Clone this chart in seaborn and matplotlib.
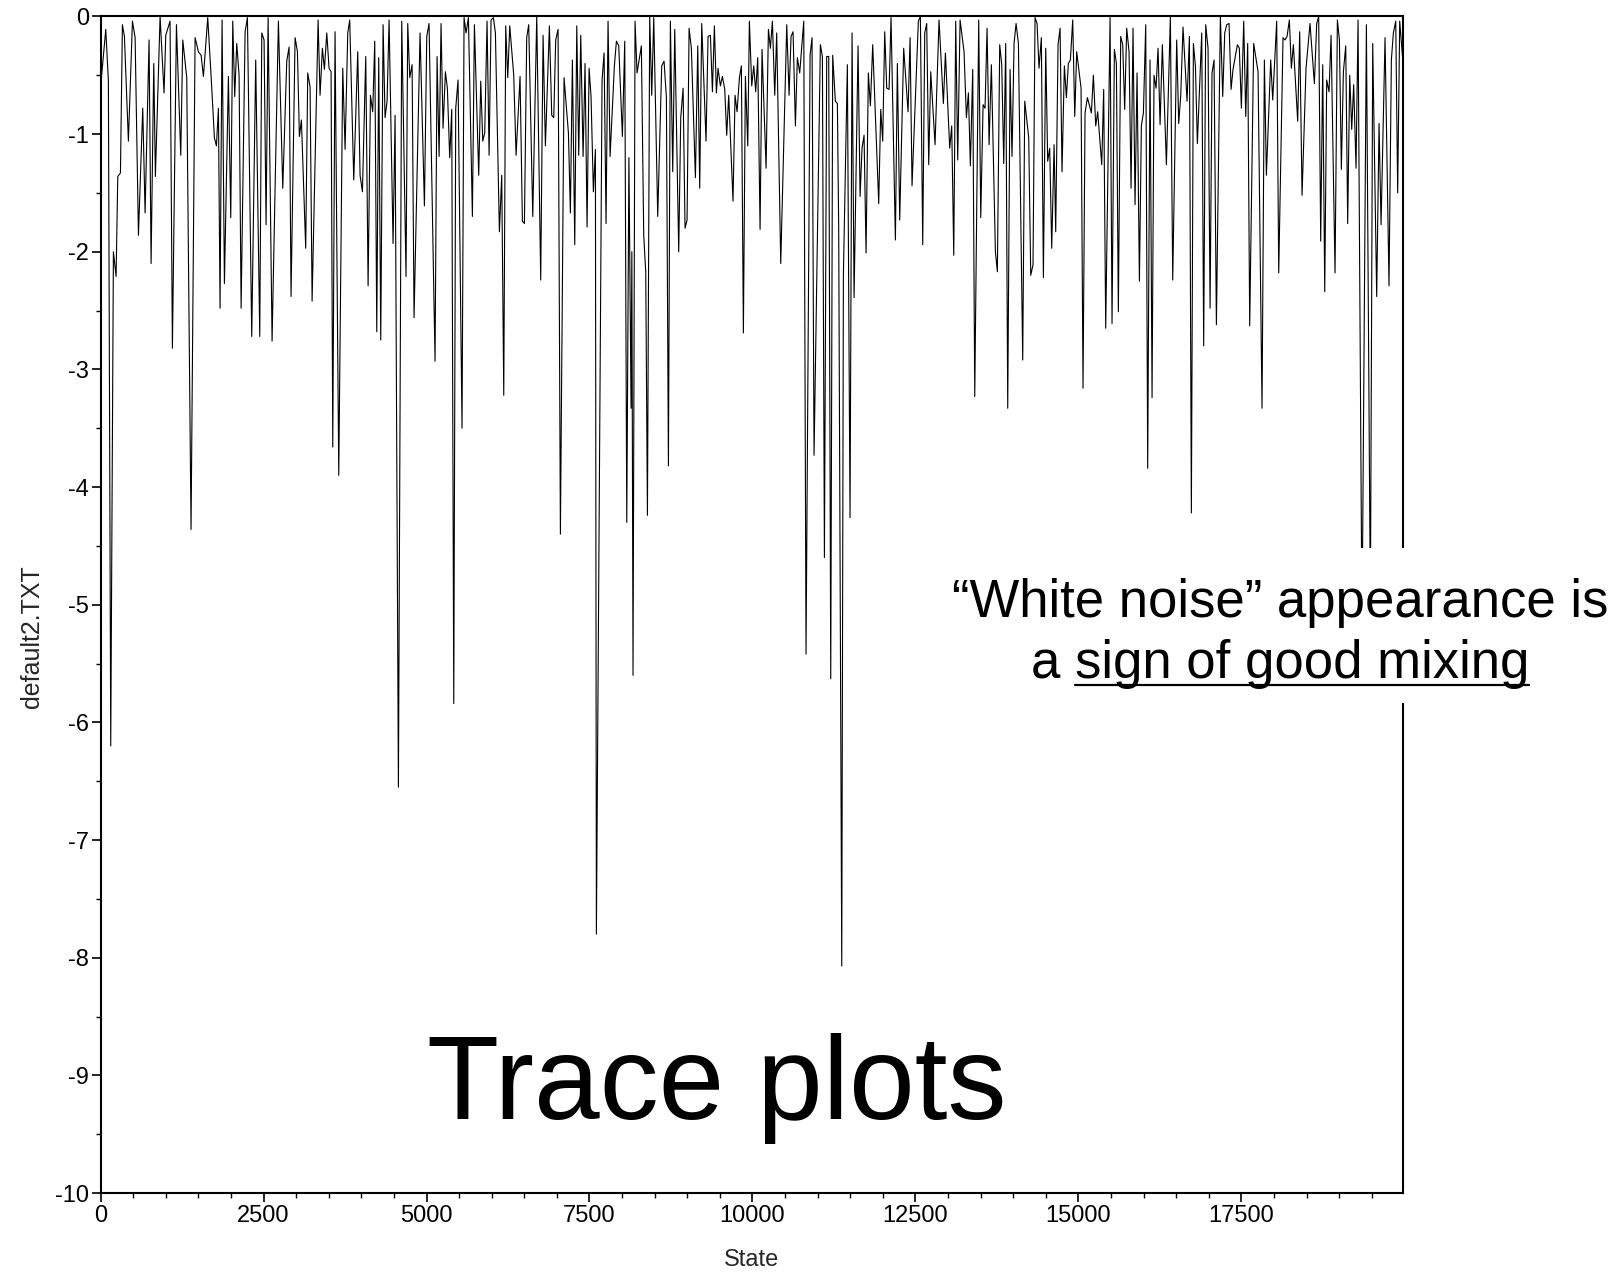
import numpy as np
import pandas as pd
import seaborn as sns
import matplotlib.pyplot as plt

from matplotlib import font_manager
from matplotlib.lines import Line2D
from matplotlib.patches import Rectangle
from matplotlib.ticker import MultipleLocator


#
# trace values read off the picture (state, sampled value)
#

state = [
    0, 80, 120, 156, 197, 238, 264, 305, 335, 366, 427, 489, 530, 581, 647, 683, 744, 775, 816, 841,
    913, 974, 1000, 1066, 1102, 1164, 1230, 1261, 1322, 1388, 1450, 1501, 1542, 1578, 1644, 1706, 1746, 1777, 1808, 1833,
    1864, 1900, 1961, 1997, 2028, 2058, 2089, 2125, 2156, 2217, 2253, 2319, 2380, 2442, 2473, 2508, 2539, 2570, 2631, 2728,
    2795, 2856, 2892, 2922, 2984, 3020, 3050, 3081, 3147, 3178, 3214, 3245, 3337,
    3367, 3403, 3434, 3470, 3505, 3536, 3562, 3597, 3654, 3715, 3751, 3792, 3822, 3884, 3945, 3981, 4017, 4068, 4104, 4140,
    4175, 4206, 4237, 4267, 4298, 4334, 4364, 4395, 4426, 4487, 4518, 4569, 4620, 4686, 4712, 4743, 4779, 4809, 4901, 4968,
    5004, 5039, 5131, 5162, 5193, 5223, 5254, 5290, 5320, 5356, 5387, 5418, 5448, 5484, 5545, 5576, 5607, 5643, 5704, 5735,
    5801, 5832, 5863, 5893, 5929, 5960, 5990, 6026, 6057, 6118, 6154, 6185, 6215, 6246, 6277, 6338, 6374, 6435, 6471, 6502,
    6537, 6568, 6630,
    6691, 6752, 6788, 6824, 6885, 6921, 6952, 6982, 7018, 7054, 7110, 7177, 7207, 7238, 7274, 7305, 7335, 7366, 7402, 7432,
    7463, 7494, 7524, 7560, 7591, 7606, 7693, 7724, 7754, 7785, 7816, 7882, 7913, 7949, 8005, 8041, 8072, 8105, 8138, 8150,
    8168, 8199, 8230, 8296, 8332, 8363, 8389, 8424, 8455, 8486, 8547, 8608, 8644, 8680, 8711, 8741, 8777, 8808, 8869, 8900,
    8936, 8966, 8997, 9028, 9063, 9125, 9161, 9191, 9222, 9288, 9319, 9355, 9386, 9416, 9447, 9472, 9508, 9539, 9575, 9605,
    9636, 9702, 9733, 9764, 9800, 9830, 9861, 9892, 9928, 9953,
    9989, 10020, 10050, 10081, 10117, 10147, 10209, 10245, 10275, 10306, 10342, 10372, 10434, 10526, 10562, 10592, 10623, 10659, 10689, 10725,
    10787, 10822, 10884, 10914, 10945, 11042, 11073, 11104, 11139, 11170, 11201, 11231, 11272, 11303, 11323, 11370, 11395, 11456, 11497, 11528,
    11559, 11620, 11651, 11681, 11712, 11743, 11778, 11809, 11845, 11937, 11968, 11998, 12029, 12060, 12096, 12126, 12193, 12223, 12259, 12320,
    12387, 12418, 12448, 12545, 12576, 12612, 12643, 12673, 12704, 12735, 12801, 12862, 12929, 12960, 13026, 13057, 13088, 13118, 13149, 13185,
    13246,
    13282, 13313, 13343, 13379, 13410, 13471, 13502, 13538, 13568, 13599, 13630, 13665, 13727, 13757, 13793, 13824, 13855, 13885, 13916, 13952,
    13982, 14013, 14044, 14080, 14146, 14177, 14238, 14269, 14304, 14335, 14366, 14396, 14432, 14463, 14499, 14529, 14560, 14591, 14627, 14652,
    14688, 14719, 14749, 14785, 14816, 14846, 14877, 14913, 14944, 14974, 15041, 15071, 15102, 15138, 15199, 15230, 15266, 15296, 15358, 15388,
    15419, 15486, 15516, 15552, 15583, 15613, 15649, 15680, 15710, 15741, 15777, 15808, 15838, 15869, 15900, 15936, 15966, 15997, 16033, 16063,
    16099, 16130, 16160, 16191, 16222, 16253, 16288, 16350, 16411, 16447, 16508, 16539,
    16570, 16605, 16667, 16703, 16733, 16764, 16795, 16825, 16892, 16922, 16953, 16989, 17020, 17050, 17081, 17117, 17178, 17214, 17245, 17275,
    17311, 17342, 17372, 17439, 17469, 17500, 17536, 17567, 17597, 17628, 17689, 17756, 17817, 17853, 17884, 17950, 17981, 18042, 18073, 18139,
    18170, 18201, 18236, 18267, 18298, 18364, 18395, 18431, 18492, 18553, 18620, 18656, 18686, 18717, 18748, 18779, 18809, 18845, 18876, 18937,
    18973, 19004, 19034, 19065, 19101, 19131, 19162, 19193, 19223, 19259, 19290, 19351, 19418, 19479, 19515, 19576, 19612, 19643, 19704, 19765,
    19801, 19832, 19868, 19898, 19929, 19980,
]

value = [
    -0.6, -0.11, -0.55, -6.2, -2.0, -2.21, -1.36, -1.33, -0.07, -0.17, -1.06, -0.04, -0.18, -1.86, -0.78, -1.67, -0.2, -2.1, -0.4, -1.36,
    0.0, -0.65, -0.16, -0.04, -2.82, -0.07, -1.18, -0.2, -0.52, -4.36, -0.18, -0.3, -0.33, -0.51, -0.01, -0.61, -1.03, -1.1, -0.78, -2.48,
    -0.03, -2.27, -0.51, -1.71, -0.04, -0.68, -0.23, -0.5, -2.48, -0.13, -0.01, -2.72, -0.37, -2.72, -0.14, -0.2, -1.77, -0.01, -2.76, -0.04,
    -1.46, -0.38, -0.26, -2.38, -0.18, -0.3, -1.02, -0.88, -1.97, -0.48, -0.6, -2.42, -0.03,
    -0.67, -0.27, -0.45, -0.14, -0.44, -0.47, -3.66, -0.13, -3.9, -0.44, -1.13, -0.14, -0.03, -1.39, -0.3, -1.35, -1.49, -0.34, -2.29, -0.67,
    -0.81, -0.21, -2.68, -0.35, -2.75, -0.07, -0.86, -0.72, -0.03, -1.93, -0.84, -6.55, -0.04, -2.21, -0.06, -0.52, -0.41, -2.56, -0.14, -1.61,
    -0.17, -0.06, -2.93, -0.34, -1.19, -0.06, -0.95, -0.47, -0.61, -1.2, -0.79, -5.84, -0.78, -0.54, -3.5, -0.01, -0.14, -0.01, -1.7, -0.07,
    -1.35, -0.55, -1.06, -0.99, -0.04, -1.18, -0.03, -0.01, -0.14, -1.83, -1.35, -3.22, -0.08, -0.52, -0.08, -0.5, -1.18, -0.51, -1.74, -1.76,
    -0.18, -0.07, -1.7,
    0.0, -2.24, -0.16, -1.1, -0.08, -0.84, -0.86, -0.2, -0.11, -4.4, -0.52, -0.99, -1.67, -0.37, -1.94, -0.08, -1.18, -0.16, -1.19, -0.4,
    -1.79, -0.44, -0.68, -1.49, -1.13, -7.8, -0.54, -0.31, -1.76, -0.04, -1.19, -0.42, -0.21, -0.25, -1.02, -0.21, -4.3, -1.2, -3.33, -2.0,
    -5.6, -0.04, -0.48, -0.25, -1.86, -2.17, -4.24, 0.0, -0.67, -0.01, -1.7, -0.42, -0.38, -0.69, -3.82, -0.04, -1.32, -0.11, -2.0, -0.86,
    -0.61, -1.8, -1.73, -0.1, -0.27, -1.37, -0.25, -1.46, -0.06, -1.06, -0.17, -0.16, -0.64, -0.08, -0.65, -0.44, -0.59, -0.51, -0.62, -1.01,
    -0.67, -1.57, -0.67, -0.81, -0.52, -0.42, -2.69, -0.51, -1.1, -0.04,
    -0.59, -0.42, -0.64, -0.35, -1.81, -0.28, -1.29, -0.11, -0.27, -0.04, -0.67, -0.14, -2.1, -0.07, -0.67, -0.17, -0.13, -0.93, -0.35, -0.48,
    -0.04, -5.42, -0.33, -0.18, -3.73, -0.24, -0.34, -4.6, -0.34, -0.34, -5.63, -0.33, -0.72, -0.74, -1.8, -8.07, -2.2, -0.41, -4.26, -0.14,
    -2.39, -0.25, -1.53, -1.12, -1.01, -2.01, -0.48, -0.76, -0.24, -1.59, -0.79, -1.06, -0.13, -0.61, -0.62, -0.01, -1.9, -0.4, -1.73, -0.27,
    -0.81, -0.18, -1.44, -0.04, 0.0, -1.94, -0.14, -0.06, -1.26, -0.47, -1.09, -0.03, -0.74, -0.31, -1.12, -0.93, -2.03, -0.04, -1.22, -0.03,
    -0.3,
    -0.86, -0.65, -1.27, -0.45, -3.23, -0.03, -1.71, -0.75, -0.78, -0.1, -1.09, -0.41, -2.0, -2.17, -0.24, -0.41, -1.25, -0.23, -3.33, -0.45,
    -1.19, -0.23, -0.06, -0.23, -2.92, -0.72, -1.03, -2.2, -2.11, -0.01, -0.06, -0.44, -0.18, -2.22, -0.27, -1.23, -1.12, -1.97, -1.09, -1.83,
    -0.24, -0.1, -1.32, -0.42, -0.69, -0.4, -0.37, -0.03, -0.85, -0.3, -0.61, -3.16, -0.82, -0.69, -0.82, -0.5, -0.93, -0.81, -1.26, -0.62,
    -2.65, -0.01, -2.61, -0.28, -0.4, -2.51, -0.17, -0.24, -0.79, -0.1, -0.3, -1.46, -0.1, -1.6, -0.48, -2.25, -0.93, -0.82, -0.07, -3.84,
    -0.37, -3.24, -0.5, -0.61, -0.27, -0.92, -0.24, -1.26, 0.0, -2.24, -0.2, -0.91,
    -0.67, -0.09, -0.72, -0.17, -4.22, -0.23, -0.42, -1.08, -0.14, -2.8, -0.07, -0.27, -2.48, -0.48, -0.37, -2.62, 0.0, -0.68, -0.14, -0.07,
    -0.06, -0.62, -0.45, -0.24, -0.27, -0.78, -0.04, -0.85, -0.23, -2.63, -0.23, -0.47, -3.33, -0.37, -1.35, -0.37, -0.71, -0.04, -2.18, -0.18,
    -0.2, -0.17, -0.03, -0.44, -0.24, -0.89, -0.13, -1.52, -0.44, -0.06, -0.57, -0.06, 0.0, -1.91, -0.41, -2.34, -0.54, -0.64, -0.16, -2.18,
    -0.03, -0.2, -1.3, -0.47, -0.25, -1.76, -0.5, -0.96, -0.58, -1.29, -0.03, -5.2, -0.07, -5.0, -0.23, -2.38, -0.91, -1.77, -0.18, -2.29,
    -0.37, -0.14, -0.04, -1.5, -0.04, -0.4,
]

assert len(state) == len(value)

x_ticks       = [0, 2500, 5000, 7500, 10000, 12500, 15000, 17500]
x_ticklabels  = ["0", "2500", "5000", "7500", "10000", "12500", "15000", "17500"]
y_ticks       = [0, -1, -2, -3, -4, -5, -6, -7, -8, -9, -10]
y_ticklabels  = ["0", "-1", "-2", "-3", "-4", "-5", "-6", "-7", "-8", "-9", "-10"]

title_text      = "Trace plots"
note_line1      = "\u201cWhite noise\u201d appearance is"
note_line2      = "a sign of good mixing"
note_underlined = "sign of good mixing"


#
# style
#

sns.set_style("ticks")
installed = {f.name for f in font_manager.fontManager.ttflist}
narrow = "Liberation Sans Narrow" if "Liberation Sans Narrow" in installed else "Liberation Sans"
plt.rcParams["font.family"] = ["Liberation Sans", "DejaVu Sans"]

df = pd.DataFrame({"State": state, "default2.TXT": value})


#
# plot
#

fig = plt.figure(figsize=(16.22, 12.75), dpi=100, facecolor="white")
ax = fig.add_axes([0.062, 0.0643, 0.803, 0.9228])

sns.lineplot(data=df, x="State", y="default2.TXT", color="black", linewidth=0.8,
             estimator=None, sort=False, ax=ax)

ax.set_xlim(0, 19980)
ax.set_ylim(-10, 0)
ax.set_xticks(x_ticks)
ax.set_xticklabels(x_ticklabels, fontfamily=narrow, fontsize=17)
ax.set_yticks(y_ticks)
ax.set_yticklabels(y_ticklabels, fontfamily=narrow, fontsize=17)
ax.xaxis.set_minor_locator(MultipleLocator(500))
ax.yaxis.set_minor_locator(MultipleLocator(0.5))
ax.tick_params(which="major", direction="out", length=6.5, width=1.2, colors="black", pad=2)
ax.tick_params(which="minor", direction="out", length=3.5, width=1.0, colors="black")

ax.set_xlabel("State", fontfamily=narrow, fontsize=17, labelpad=16)
ax.set_ylabel("default2.TXT", fontsize=18, labelpad=8)
ax.yaxis.label.set_y(0.473)

for side in ["top", "right", "bottom", "left"]:
    ax.spines[side].set_visible(True)
    ax.spines[side].set_color("black")
    ax.spines[side].set_linewidth(1.5)

# white box behind the note
fig.add_artist(Rectangle((936 / 1622, 1 - 703 / 1275), (1622 - 936) / 1622, 155 / 1275,
                         transform=fig.transFigure, facecolor="white", edgecolor="none", zorder=2.5))

fig.text(0.442, 0.1224, title_text, ha="center", va="baseline", fontsize=85, color="black")

t1 = fig.text(0.789, 0.516, note_line1, ha="center", va="baseline", fontsize=38, color="black")
t2 = fig.text(0.789, 0.4682, note_line2, ha="center", va="baseline", fontsize=38, color="black")

# underline the tail of the second line
renderer = fig.canvas.get_renderer()
bb_full = t2.get_window_extent(renderer)
tmp = fig.text(0, 0, note_underlined, fontsize=38)
w_under = tmp.get_window_extent(renderer).width
tmp.remove()
inv = fig.transFigure.inverted()
(fx1, fy), = inv.transform([(bb_full.x1, 0.4682 * 1275 - 7)])
(fx0, _), = inv.transform([(bb_full.x1 - w_under, 0)])
fig.add_artist(Line2D([fx0, fx1], [fy, fy], transform=fig.transFigure, color="black",
                      linewidth=1.6, zorder=4))

fig.savefig("out.png", dpi=100, facecolor="white")
